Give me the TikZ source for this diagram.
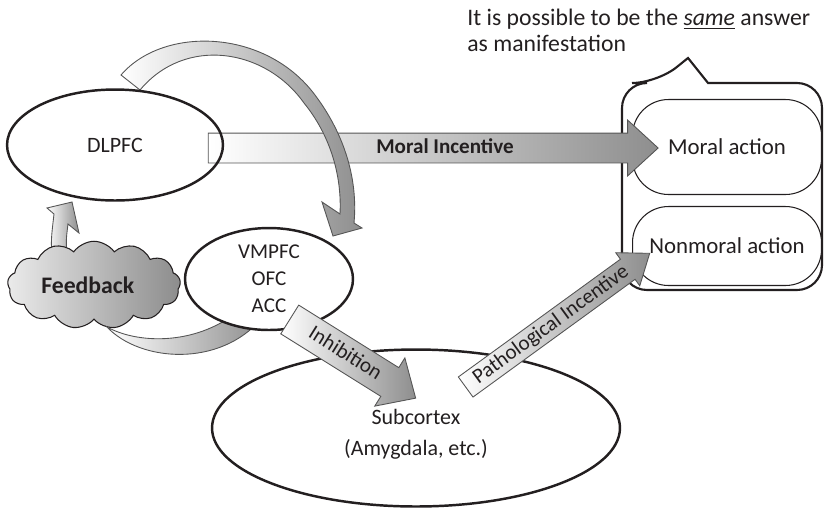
\documentclass[tikz,border=0pt]{standalone}
\usepackage{fontspec}
\setmainfont{Carlito}
\usetikzlibrary{shapes.geometric, shapes.arrows, shapes.symbols}
\definecolor{shadegray}{HTML}{8E8E8E}
\definecolor{edgegray}{HTML}{555555}
\definecolor{inkgray}{HTML}{231F20}

\begin{document}
\begin{tikzpicture}[x=0.02cm, y=-0.02cm,
    every node/.style={font=\fontsize{12}{15}\selectfont, text=inkgray},
    region/.style={ellipse, draw=inkgray, line width=1.4pt, inner sep=0pt, align=center, font=\fontsize{12.5}{15.4}\selectfont},
    action/.style={rectangle, rounded corners=0.72cm, draw=inkgray, line width=0.6pt, fill=white, minimum width=3.78cm, font=\fontsize{13}{15}\selectfont},
    incentive/.style={single arrow, draw=edgegray, line width=0.5pt, left color=white, right color=shadegray, single arrow head indent=0pt, inner xsep=0pt, text height=0.28cm, text depth=0.06cm},
    sweep/.style={draw=edgegray, line width=0.5pt, left color=white, right color=shadegray},
    balloon/.style={draw=inkgray, line width=1.2pt, rounded corners=0.5cm}
]
\useasboundingbox (0,0) rectangle (824,508);

% Outcomes
\draw[balloon] (740,83) -- (822,83) -- (822,290) -- (622,290) -- (622,83) -- (657,83) [sharp corners] -- (688,58) -- (708,83) -- (740,83);
\node[action, minimum height=1.9cm] (moral) at (727,147) {Moral action};
\node[action, minimum height=1.58cm] (nonmoral) at (727,246) {Nonmoral action};

% Moral route
\node[incentive, minimum height=9cm, inner ysep=0.12cm, single arrow head extend=0.26cm, single arrow tip angle=85, font=\bfseries\fontsize{12}{15}\selectfont] (moralinc) at (425,148) {\hspace*{0.8cm}Moral Incentive};
\draw[sweep] (121,75) .. controls (163,26) and (265,28) .. (315,95) .. controls (345,135) and (358,180) .. (354,223) -- (362,228) -- (333,236) -- (322,202) -- (340,214) .. controls (342,175) and (330,135) .. (304,103) .. controls (265,48) and (185,36) .. (140,90) -- cycle;
\node[region, minimum width=4.32cm, minimum height=2.22cm] (dlpfc) at (115,145) {DLPFC};

% Feedback loop
\draw[sweep] (52,258) .. controls (51,240) .. (54,214) -- (47,208) -- (72,202) -- (79,233) -- (68,224) .. controls (66,240) .. (67,258) -- cycle;
\node[cloud, cloud puffs=13, cloud puff arc=110, aspect=2.1, draw=inkgray, line width=0.6pt, left color=black!8, right color=black!45, minimum width=3.46cm, minimum height=1.68cm, inner sep=0pt, font=\bfseries\fontsize{13.5}{15}\selectfont] (feedback) at (94,285) {Feedback\hspace*{0.25cm}};
\draw[sweep] (107,327) .. controls (140,362) and (220,368) .. (262,318) -- (242,308) .. controls (200,345) and (140,345) .. (107,327) -- cycle;
\node[region, fill=white, minimum width=3.36cm, minimum height=2.04cm, font=\fontsize{12}{15.4}\selectfont] (vmpfc) at (269,279) {VMPFC\\OFC\\ACC};

% Subcortical route
\node[region, fill=white, minimum width=8.16cm, minimum height=3.14cm, font=\fontsize{12.5}{18}\selectfont] (subcortex) at (416,428) {\rule{0pt}{0.55cm}Subcortex\\(Amygdala, etc.)};
\node[incentive, rotate=-32, minimum height=2.97cm, inner ysep=0.16cm, single arrow head extend=0.23cm, single arrow tip angle=86] (inhib) at (345,354) {Inhibition};
\node[incentive, rotate=36, minimum height=4.55cm, inner ysep=0.07cm, single arrow head extend=0.16cm, single arrow tip angle=74] (patho) at (551,325) {Pathological Incentive};

% Remark
\node[anchor=north west, inner sep=0pt, align=left, font=\fontsize{13.5}{14.8}\selectfont] (remark) at (467,9) {It is possible to be the \underline{\textit{same}} answer\\as manifestation};
\end{tikzpicture}
\end{document}
